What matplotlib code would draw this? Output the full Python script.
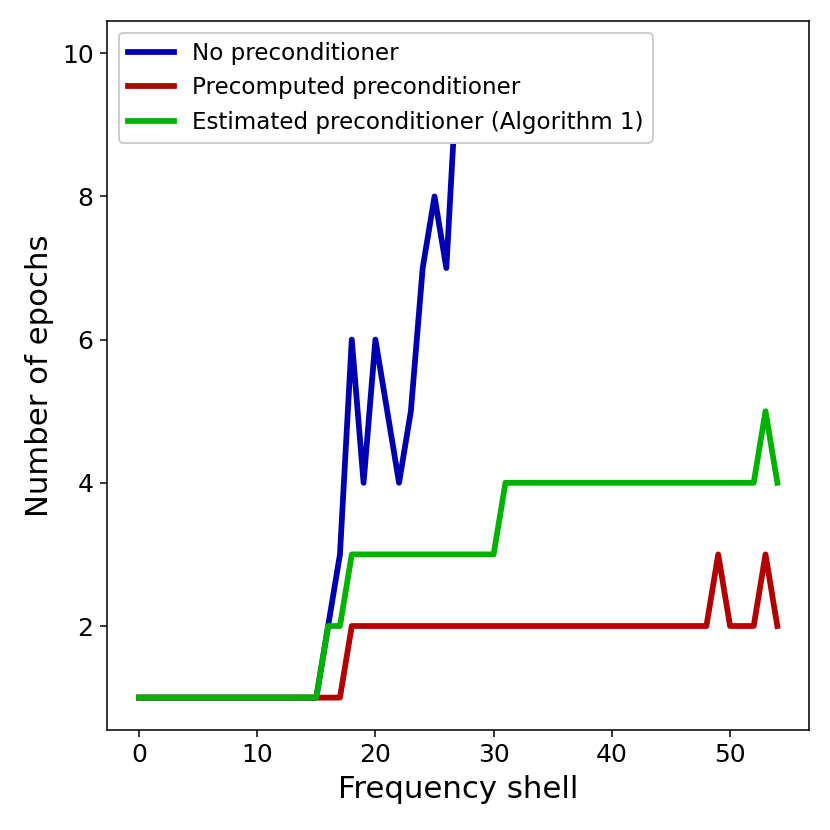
import numpy as np
import matplotlib
matplotlib.use("Agg")
from matplotlib import pyplot as plt

# epochs per frequency shell
no_prec = [1]*16 + [2, 3, 6, 4, 6, 5, 4, 5, 7, 8, 7, 10]
precomputed = [1]*18 + [2]*31 + [3, 2, 2, 2, 3, 2]
estimated = [1]*16 + [2, 2] + [3]*13 + [4]*22 + [5, 4]

fig = plt.figure(figsize=(6, 6), dpi=830/6)
ax = fig.add_axes([0.129, 0.1207, 0.846, 0.854])

ax.plot(np.arange(len(no_prec)), no_prec, color='#0000b3', lw=3, label='No preconditioner')
ax.plot(np.arange(len(precomputed)), precomputed, color='#b30000', lw=3, label='Precomputed preconditioner')
ax.plot(np.arange(len(estimated)), estimated, color='#00b300', lw=3, label='Estimated preconditioner (Algorithm 1)')

ax.set_xticks([0, 10, 20, 30, 40, 50])
ax.set_yticks([2, 4, 6, 8, 10])
ax.tick_params(labelsize=13)
ax.set_xlabel('Frequency shell', fontsize=16)
ax.set_ylabel('Number of epochs', fontsize=16)
ax.legend(loc='upper left', fontsize=12, framealpha=1)

plt.savefig('out.png', dpi=830/6)
